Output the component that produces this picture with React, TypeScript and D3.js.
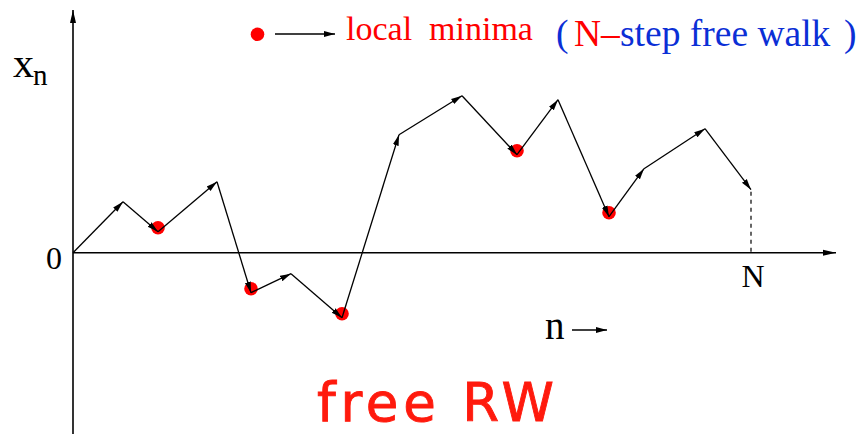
import React from "react";
import * as d3 from "d3";

// Horizontal position of each step along the n axis (arbitrary units)
const stepPos = [0, 5.0, 8.5, 14.4, 17.8, 21.8, 26.9, 32.6, 38.9, 44.4, 48.5, 53.6, 57.1, 63.2, 67.8];
// Walker position x_n after each step
const walkValues = [0, 5.1, 2.1, 7.1, -4.0, -2.1, -6.5, 11.8, 15.7, 9.8, 15.3, 3.6, 8.4, 12.4, 6.3];
// Indices of the local minima of the walk
const minimaIdx = [2, 4, 6, 9, 11];

const W = 861;
const H = 434;
const SERIF = "'Liberation Serif', 'Times New Roman', serif";

export default function App() {
  const xScale = d3.scaleLinear().domain([0, 76.3]).range([73, 836]);
  const yScale = d3.scaleLinear().domain([-18.13, 24.27]).range([434, 10]);

  const x0 = xScale(0);
  const y0 = yScale(0);
  const lastI = stepPos.length - 1;

  const segments = d3.range(1, stepPos.length).map((i) => ({
    x1: xScale(stepPos[i - 1]),
    y1: yScale(walkValues[i - 1]),
    x2: xScale(stepPos[i]),
    y2: yScale(walkValues[i]),
  }));

  return (
    <svg
      width={W}
      height={H}
      style={{ position: "absolute", left: 0, top: 0, background: "#fff" }}
    >
      <defs>
        <marker
          id="head"
          markerUnits="userSpaceOnUse"
          markerWidth={12}
          markerHeight={8}
          refX={11}
          refY={4}
          orient="auto"
          viewBox="0 0 12 8"
        >
          <path d="M0,1 L11,4 L0,7 Z" fill="#000" />
        </marker>
        <marker
          id="axisHead"
          markerUnits="userSpaceOnUse"
          markerWidth={14}
          markerHeight={8}
          refX={13}
          refY={4}
          orient="auto"
          viewBox="0 0 14 8"
        >
          <path d="M0,1 L13,4 L0,7 Z" fill="#000" />
        </marker>
      </defs>

      {/* axes */}
      <line x1={x0} y1={H} x2={x0} y2={yScale(24.27)} stroke="#000" strokeWidth={1.6} markerEnd="url(#axisHead)" />
      <line x1={x0} y1={y0} x2={xScale(76.3)} y2={y0} stroke="#000" strokeWidth={1.6} markerEnd="url(#axisHead)" />

      {/* dashed drop from the final position to the axis */}
      <line
        x1={xScale(stepPos[lastI])}
        y1={yScale(walkValues[lastI]) + 2}
        x2={xScale(stepPos[lastI])}
        y2={y0}
        stroke="#000"
        strokeWidth={1.2}
        strokeDasharray="4 4"
      />

      {/* local minima */}
      {minimaIdx.map((i) => (
        <circle key={i} cx={xScale(stepPos[i])} cy={yScale(walkValues[i]) - 4} r={6.8} fill="#ff0000" />
      ))}

      {/* walk steps */}
      {segments.map((s, i) => (
        <line
          key={i}
          x1={s.x1}
          y1={s.y1}
          x2={s.x2}
          y2={s.y2}
          stroke="#000"
          strokeWidth={1.3}
          markerEnd="url(#head)"
        />
      ))}

      {/* axis labels */}
      <text x={13} y={77} fontFamily={SERIF} fontSize={42} fill="#000">x</text>
      <text x={33} y={85} fontFamily={SERIF} fontSize={29} fill="#000">n</text>
      <text x={62} y={269} fontFamily={SERIF} fontSize={32} textAnchor="end" fill="#000">0</text>
      <text x={xScale(stepPos[lastI]) + 2} y={287} fontFamily={SERIF} fontSize={32} textAnchor="middle" fill="#000">N</text>
      <text x={545} y={339} fontFamily={SERIF} fontSize={39} fill="#000">n</text>
      <line x1={572} y1={330} x2={607} y2={330} stroke="#000" strokeWidth={1.3} markerEnd="url(#head)" />

      {/* legend */}
      <circle cx={257.5} cy={34.3} r={6.8} fill="#ff0000" />
      <line x1={275} y1={34} x2={335} y2={34} stroke="#000" strokeWidth={1.3} markerEnd="url(#head)" />
      <text x={346} y={40} fontFamily={SERIF} fontSize={34} fill="#ff0000" xmlSpace="preserve">
        local  minima
      </text>
      <text y={46} fontFamily={SERIF} fontSize={37.5} fill="#0b2fd6">
        <tspan x={556}>(</tspan>
        <tspan x={574} fill="#ff0000">N–</tspan>
        <tspan x={620}>step free walk</tspan>
        <tspan x={844}>)</tspan>
      </text>

      <text
        x={317}
        y={421}
        fontFamily="'DejaVu Sans', sans-serif"
        fontSize={53}
        fill="#ff1a0d"
        stroke="#ff1a0d"
        strokeWidth={0.9}
        textLength={237}
        lengthAdjust="spacing"
      >
        free RW
      </text>
    </svg>
  );
}
